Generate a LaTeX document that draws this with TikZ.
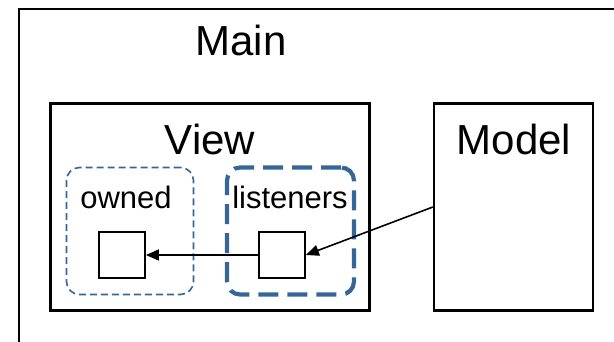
\documentclass[tikz,border=0pt]{standalone}
\usepackage{fontspec}
\setmainfont{Liberation Sans}
\usepackage{tikz}
\usetikzlibrary{arrows.meta,calc,positioning}

\begin{document}
\begin{tikzpicture}[x=1pt,y=-1pt,
    box/.style={draw=black, line width=2.3pt, inner sep=0pt},
    cell/.style={draw=black, line width=1.8pt, minimum size=46pt, inner sep=0pt},
    group/.style={draw=blueish, rounded corners=13pt, minimum size=127pt, inner sep=0pt},
    big/.style={font=\fontsize{42}{50}\selectfont, inner sep=0pt, anchor=base},
    small/.style={font=\fontsize{31}{37}\selectfont, inner sep=0pt, anchor=base},
    arr/.style={line width=1.6pt, -{Triangle[length=13pt,width=11pt]}}]
      \definecolor{blueish}{RGB}{52,103,151}
      \useasboundingbox (0,0) rectangle (614,341);
      \clip (0,0) rectangle (614,341);
      % outer frame
      \node[box, minimum width=640pt, minimum height=360pt, anchor=north west] (main) at (17.5,7.5) {};
      \node[big] (mainlbl) at (241,55) {Main};
      % view and model
      \node[box, minimum width=319pt, minimum height=207pt] (view) at (210,207) {};
      \node[big] (viewlbl) at (210,154) {View};
      \node[box, minimum width=159pt, minimum height=207pt] (model) at (513.5,207) {};
      \node[big] (modellbl) at (514,154) {Model};
      % dashed groups
      \node[group, line width=1.6pt, dash pattern=on 7pt off 4pt] (owned) at (130,231) {};
      \node[group, line width=4.2pt, dash pattern=on 20pt off 9pt] (listeners) at (290.5,231) {};
      \node[small] (ownedlbl) at (126,208) {owned};
      \node[small] (listenerslbl) at (290,208) {listeners};
      % cells
      \node[cell] (ocell) at (122,255) {};
      \node[cell] (lcell) at (282,255) {};
      % arrows
      \draw[arr] (lcell.west) -- (ocell.east);
      \draw[arr] (model.west) -- (lcell.east);
    \end{tikzpicture}
\end{document}
